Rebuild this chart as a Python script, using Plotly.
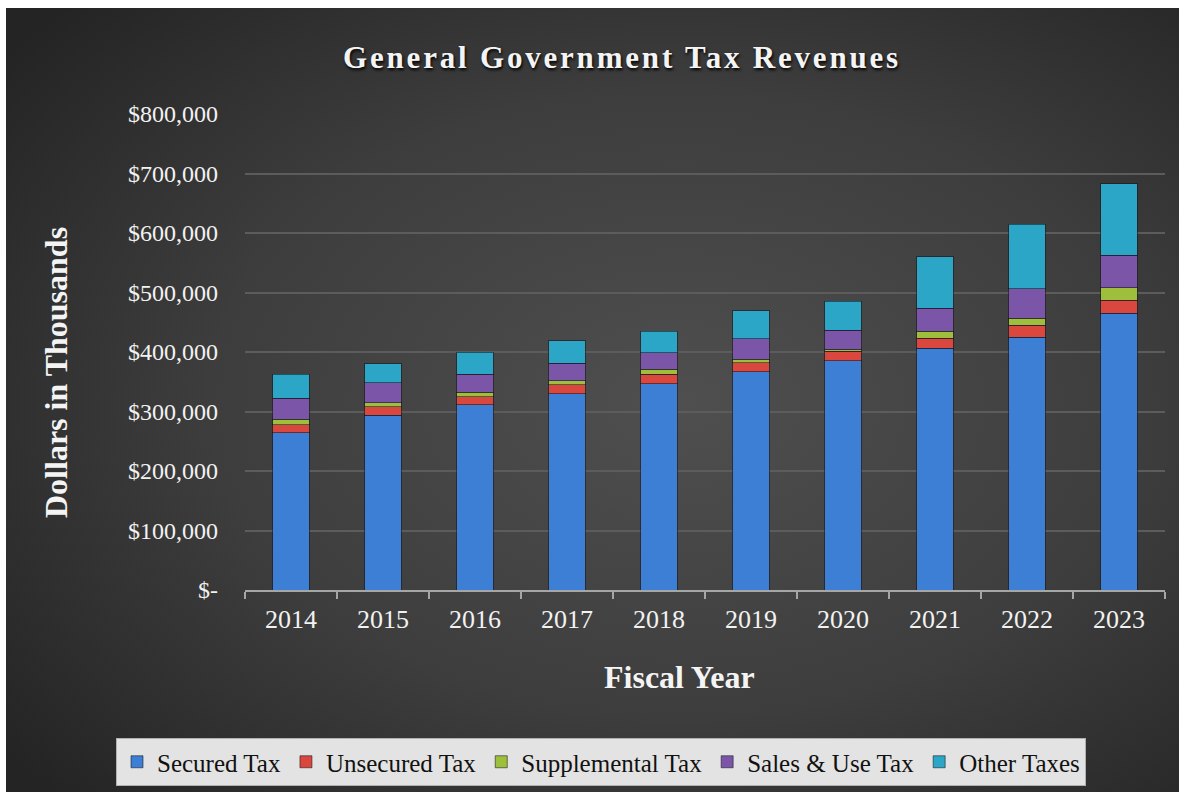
import base64
import plotly.graph_objects as go

# ---- data (values in thousands of dollars) ----
years = ["2014", "2015", "2016", "2017", "2018", "2019", "2020", "2021", "2022", "2023"]
secured = [264000, 294000, 311000, 330000, 347000, 367000, 385000, 406000, 425000, 465000]
unsecured = [14000, 14000, 14000, 15000, 15500, 15000, 16000, 17000, 20000, 22000]
supplemental = [9000, 7000, 7000, 7000, 8500, 6000, 3500, 12000, 12000, 21000]
sales_use = [35000, 33000, 31000, 29000, 28000, 34000, 32000, 38500, 49000, 55000]
other = [41000, 32000, 37000, 38000, 36000, 47500, 49000, 87000, 109000, 119500]

series_names = ["Secured Tax", "Unsecured Tax", "Supplemental Tax", "Sales & Use Tax", "Other Taxes"]
series_colors = ["#3d7fd4", "#d9473f", "#9dbf3b", "#7b56a8", "#2ba6c6"]

y_tickvals = [0, 100000, 200000, 300000, 400000, 500000, 600000, 700000, 800000]
y_ticktext = ["$-", "$100,000", "$200,000", "$300,000", "$400,000",
              "$500,000", "$600,000", "$700,000", "$800,000"]

# ---- layout geometry (figure pixel coordinates) ----
W, H = 1179, 792
ML, MR, MT, MB = 239, 20, 106, 210
PW, PH = W - ML - MR, H - MT - MB

def px_x(x):
    return (x - ML) / PW

def px_y(y):
    return (H - MB - y) / PH

# dark radial-gradient background as an SVG image
svg = (
    '<svg xmlns="http://www.w3.org/2000/svg" width="1179" height="792" viewBox="0 0 1179 792">'
    '<defs><radialGradient id="g" cx="57%" cy="50%" r="72%">'
    '<stop offset="0%" stop-color="#4f4f4f"/>'
    '<stop offset="55%" stop-color="#3d3d3d"/>'
    '<stop offset="100%" stop-color="#242424"/>'
    '</radialGradient></defs>'
    '<rect width="1179" height="792" fill="url(#g)"/></svg>'
)
bg_src = "data:image/svg+xml;base64," + base64.b64encode(svg.encode()).decode()

fig = go.Figure()
for name, vals, col in zip(series_names, [secured, unsecured, supplemental, sales_use, other], series_colors):
    fig.add_trace(go.Bar(
        x=years, y=vals, name=name,
        marker=dict(color=col, line=dict(color="rgba(20,20,30,0.55)", width=1)),
        hoverinfo="x+y+name",
    ))

serif = "Liberation Serif, Times New Roman, serif"

fig.update_layout(
    width=W, height=H,
    barmode="stack", bargap=0.6,
    paper_bgcolor="#333333",
    plot_bgcolor="rgba(0,0,0,0)",
    margin=dict(l=ML, r=MR, t=MT, b=MB, autoexpand=False),
    font=dict(family=serif, color="#f2f2f2", size=22),
    title=dict(
        text="<b>General Government Tax Revenues</b>",
        x=px_x(616), xref="paper", xanchor="center",
        y=1 - 49 / H, yref="container", yanchor="middle",
        font=dict(family=serif, size=31, color="#f4f4f4", shadow="1px 2px 3px #000000"),
    ),
    xaxis=dict(
        type="category",
        showline=True, linecolor="#a6a6a6", linewidth=2,
        ticks="outside", tickson="boundaries", ticklen=7, tickcolor="#a6a6a6", tickwidth=2,
        showgrid=False, ticklabelstandoff=5,
        tickfont=dict(family=serif, size=26, color="#f2f2f2"),
    ),
    yaxis=dict(
        range=[0, 800000],
        tickvals=y_tickvals, ticktext=y_ticktext,
        showgrid=True, gridcolor="#5c5c5c", gridwidth=2,
        zeroline=False, showline=False, ticks="",
        ticklabelstandoff=26,
        tickfont=dict(family=serif, size=24, color="#f2f2f2"),
    ),
    legend=dict(
        orientation="h",
        xref="paper", yref="paper",
        x=px_x(110), xanchor="left",
        y=px_y(730), yanchor="top",
        bgcolor="#e3e3e3", bordercolor="#b0b0b0", borderwidth=1,
        font=dict(family=serif, size=25, color="#111111"),
        traceorder="normal",
        itemwidth=30,
    ),
    images=[dict(
        source=bg_src, xref="paper", yref="paper",
        x=px_x(0), y=px_y(0), sizex=W / PW, sizey=H / PH,
        xanchor="left", yanchor="top", sizing="stretch", layer="below",
    )],
    annotations=[
        dict(text="<b>Fiscal Year</b>", xref="paper", yref="paper",
             x=px_x(673), y=px_y(669), xanchor="center", yanchor="middle",
             showarrow=False, font=dict(family=serif, size=32, color="#f4f4f4")),
        dict(text="<b>Dollars in Thousands</b>", xref="paper", yref="paper",
             x=px_x(50), y=px_y(365), xanchor="center", yanchor="middle",
             textangle=-90, showarrow=False,
             font=dict(family=serif, size=32, color="#f4f4f4")),
    ],
)

post = ("var s=document.createElement('style');"
        "s.textContent='.gtitle{letter-spacing:2.8px;}"
        "html,body{overflow:hidden;}body{margin:8px 0 0 6px !important;}';"
        "document.head.appendChild(s);")

fig.write_html("out.html", post_script=post)
